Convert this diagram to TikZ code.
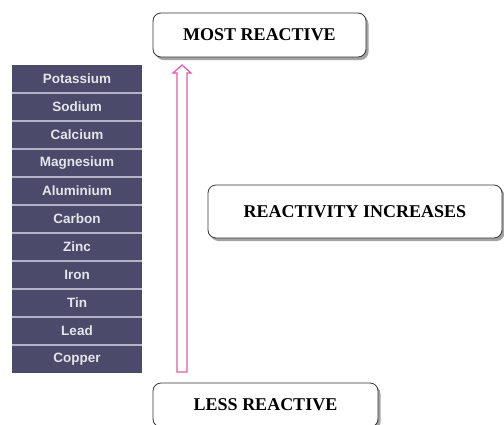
\documentclass[tikz,border=0pt]{standalone}
\usepackage{fontspec}
\setmainfont{Liberation Serif}
\newfontfamily\metalfont{Liberation Sans}
\usetikzlibrary{positioning,shadows}
\definecolor{metalfill}{HTML}{4B4A6B}
\definecolor{metalline}{HTML}{B4B3C4}
\definecolor{arrowpink}{HTML}{E25AA6}

\begin{document}
\begin{tikzpicture}[x=1pt, y=-1pt,
    metal/.style={fill=metalfill, minimum width=130pt, minimum height=28pt, inner sep=0pt,
        text=white!85!metalfill, font=\metalfont\fontsize{13.5}{14}\selectfont\bfseries},
    label box/.style={draw=black!80, line width=0.8pt, rounded corners=8pt, fill=white,
        drop shadow={shadow xshift=2.5pt, shadow yshift=-3pt, fill=black!45, opacity=0.8},
        inner sep=0pt, font=\fontsize{18}{20}\selectfont\bfseries}]
\useasboundingbox (0,0) rectangle (504,424);
% metals, most reactive first
\foreach \name [count=\i] in {Potassium,Sodium,Calcium,Magnesium,Aluminium,
    Carbon,Zinc,Iron,Tin,Lead,Copper}
    \node[metal] (m\i) at (77,51+28*\i) {\name};
\foreach \i in {1,...,10}
    \draw[metalline, line width=1.5pt] (m\i.south west) -- (m\i.south east);
\node[label box, minimum width=213pt, minimum height=44pt] (most) at (259.5,35) {MOST REACTIVE};
\node[label box, minimum width=294pt, minimum height=53pt] (incr) at (355,211.5) {REACTIVITY INCREASES};
\node[label box, minimum width=225pt, minimum height=44pt] (less) at (265.5,405) {LESS REACTIVE};
% hollow arrow
\coordinate (tail) at (182,372);
\coordinate (tip) at (182,65);
\draw[arrowpink, line width=1.2pt, line join=miter]
    ([xshift=-5pt]tail) -- ([xshift=5pt]tail) -- ([xshift=5pt,yshift=-8pt]tip)
    -- ([xshift=9pt,yshift=-8pt]tip) -- (tip) -- ([xshift=-9pt,yshift=-8pt]tip)
    -- ([xshift=-5pt,yshift=-8pt]tip) -- cycle;
\end{tikzpicture}
\end{document}
